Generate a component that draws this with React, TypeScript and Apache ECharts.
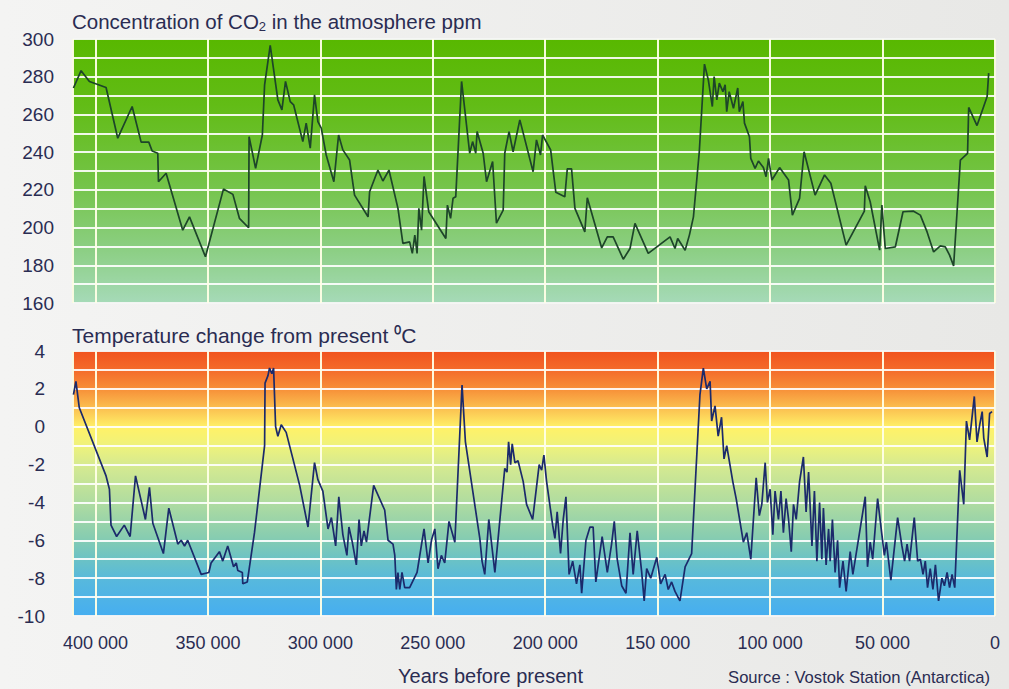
import React, { useEffect, useRef } from "react";
import * as echarts from "echarts";

// ---------- DATA ----------
const co2Years = [
  409800, 406400, 402700, 395300, 390100, 383700, 379700, 376300, 374800, 372300, 372000, 368600,
  361200, 358200, 351100, 343100, 338900, 336000, 331900, 331700, 328800, 325800, 324800, 322300,
  318900, 317100, 315500, 313400, 311900, 307800, 306300, 304500, 302600, 301100, 299600, 297400,
  294000, 291900, 290000, 287000, 284800, 278800, 278100, 274400, 272200, 269500, 265500, 263300,
  260300, 259100, 258000, 257000, 256200, 255000, 253900, 251800, 244200, 243500, 242100, 241000,
  239800, 237200, 233600, 232300, 230900, 230300, 227600, 226100, 223400, 221700, 218700, 218000,
  216100, 214300, 211300, 205400, 203900, 202100, 201200, 197600, 195300, 191300, 190200, 188300,
  186800, 182400, 181300, 174900, 172400, 169800, 165300, 162300, 160100, 154200, 144500, 142300,
  141100, 137800, 135900, 134100, 131500, 129200, 127500, 125700, 124900, 123700, 122600, 121000,
  120000, 119300, 118200, 116300, 114400, 113700, 112100, 111400, 109200, 108600, 106700, 105200,
  103000, 101800, 100700, 99200, 95800, 91800, 90100, 86900, 84900, 80000, 75800, 73000,
  66200, 58100, 57700, 55500, 51300, 50300, 48800, 44300, 40900, 36200, 33200, 30200,
  27300, 24300, 22100, 20200, 18400, 15400, 12200, 11700, 8000, 5300, 3500, 2800,
];
const co2Values = [
  274, 283.2, 277.5, 274.3, 247.4, 264.2, 245.3, 245.3, 240.6, 239.4, 224.3, 228.8,
  198.6, 205.7, 184.5, 220.4, 217.6, 204.9, 199.9, 248.2, 231.4, 249.1, 275.7, 296.6,
  267.7, 262.4, 277.5, 266.8, 265.1, 245.6, 255.4, 242.1, 270.4, 256.2, 252.7, 238.5,
  224.3, 249.1, 241.2, 235.8, 217.2, 205.7, 219, 230.5, 224.7, 230.5, 210.2, 191.6,
  192.4, 186.3, 196, 186.3, 210.2, 198.6, 227.1, 208.4, 194.2, 211.9, 204.9, 215.5,
  216.3, 277.5, 239.4, 245.6, 239.4, 250.9, 239.4, 224.3, 235, 202.3, 209.3, 239.4,
  250.9, 240.2, 257.1, 229.6, 246.5, 238.5, 249.1, 241.2, 218.7, 216.3, 231.1, 231.1,
  210.2, 197.7, 215.8, 189.2, 195.1, 195.1, 183.2, 188.9, 202.2, 186.3, 195.1, 188.9,
  194.2, 188, 196, 205.7, 240.2, 286.7, 278.4, 264.2, 280.1, 267.7, 276.6, 272.1,
  275.7, 261.5, 272.1, 263.3, 274, 261.5, 266.8, 255.4, 248.2, 236.7, 231.4, 235.3,
  231.8, 227, 236.7, 225.2, 231.8, 225.2, 206.6, 215.5, 240.2, 217.2, 227.9, 223.5,
  190.7, 208.7, 222.2, 213.7, 188, 211.9, 188.9, 189.8, 208.4, 208.7, 206.6, 197.7,
  187.1, 190.3, 189.8, 185.4, 179.7, 235.8, 239.4, 263.7, 254.1, 263.3, 269.5, 281.9,
];

const tempYears = [
  409800, 408700, 407200, 395300, 393800, 393100, 390600, 387200, 384600, 382200, 377800, 376000,
  374500, 369800, 367400, 363400, 361900, 360400, 359000, 353000, 349600, 348600, 344900, 343400,
  341200, 338600, 337400, 336700, 334700, 334500, 332500, 329300, 324800, 324600, 323300, 322600,
  321600, 320800, 319900, 318900, 317400, 315200, 309200, 305500, 302600, 301100, 298900, 296600,
  295100, 293200, 291800, 290000, 288200, 287300, 285800, 284000, 282800, 281800, 280600, 279500,
  276300, 271400, 269900, 267700, 266900, 266200, 265500, 264700, 263700, 262500, 260300, 257000,
  253900, 252100, 250600, 249100, 247700, 246200, 244700, 242800, 240200, 237000, 235500, 229100,
  228100, 226900, 225100, 222400, 218000, 217000, 216300, 215400, 214700, 213500, 212100, 209800,
  208300, 205600, 202700, 201600, 200600, 199400, 196700, 195700, 194700, 193200, 192000, 190800,
  189400, 187800, 186100, 184600, 183800, 181900, 180100, 178700, 177500, 174700, 172400, 170500,
  169300, 168000, 166000, 164100, 162300, 160900, 159100, 157100, 156000, 154900, 153100, 150400,
  148700, 146700, 145300, 143800, 142300, 140100, 137800, 134900, 131200, 129700, 128200, 126700,
  126000, 124500, 123100, 121600, 120500, 119300, 116600, 115100, 111900, 110400, 108600, 106200,
  104800, 103700, 102200, 101200, 100000, 98800, 97800, 96300, 95200, 94100, 92900, 91800,
  90600, 89600, 88400, 86900, 85200, 84000, 82900, 81400, 80300, 79200, 78000, 77000,
  76300, 75100, 74000, 73300, 72300, 71100, 70000, 69100, 67600, 66200, 64400, 63200,
  57700, 56700, 55500, 54400, 52200, 50300, 49200, 48300, 46300, 43300, 41400, 40200,
  39100, 38000, 35900, 34400, 33200, 32000, 31000, 30000, 28800, 27600, 26500, 25100,
  23600, 22500, 21300, 20200, 19100, 17900, 15700, 13900, 12700, 11300, 9200, 8000,
  6800, 5700, 5000, 3500, 2400, 1300,
];
const tempValues = [
  1.7, 2.4, 1.0, -2.6, -3.3, -5.2, -5.8, -5.2, -5.8, -2.6, -4.9, -3.2,
  -5.1, -6.7, -4.3, -6.2, -6.0, -6.3, -6.0, -7.8, -7.7, -7.2, -6.6, -7.1,
  -6.3, -7.4, -7.2, -7.6, -7.7, -8.3, -8.2, -5.6, -1.0, 2.3, 2.7, 3.1,
  2.8, 3.1, 0.0, -0.5, 0.1, -0.3, -3.1, -5.3, -1.9, -2.8, -3.4, -5.4,
  -4.8, -6.3, -3.7, -5.7, -6.8, -5.3, -6.1, -7.3, -4.9, -6.3, -5.5, -6.1,
  -3.1, -4.4, -6.0, -6.2, -6.8, -8.6, -7.7, -8.6, -7.7, -8.5, -8.5, -7.7,
  -5.4, -7.2, -6.0, -5.4, -7.5, -6.8, -7.2, -5.0, -6.1, 2.2, -0.8, -5.9,
  -7.1, -7.8, -4.9, -7.7, -2.2, -2.4, -0.8, -2.0, -0.9, -1.9, -1.8, -2.9,
  -4.1, -4.9, -2.0, -2.3, -1.5, -2.9, -5.2, -5.9, -4.5, -6.7, -4.9, -3.7,
  -7.8, -7.1, -8.3, -7.3, -8.8, -6.0, -5.3, -5.3, -8.2, -5.8, -7.7, -6.2,
  -5.0, -7.0, -8.4, -8.8, -5.6, -7.8, -5.5, -7.7, -9.2, -7.5, -8.0, -6.9,
  -8.3, -7.8, -8.6, -8.2, -8.7, -9.2, -7.4, -6.7, 1.7, 3.1, 2.0, 2.4,
  0.3, 1.1, -0.5, 0.5, -1.7, -1.0, -2.9, -3.8, -6.1, -5.6, -7.0, -2.7,
  -4.7, -4.1, -1.9, -4.0, -3.3, -5.7, -3.4, -4.9, -3.4, -5.6, -3.8, -4.9,
  -6.6, -4.1, -4.9, -2.9, -1.6, -4.5, -2.4, -6.3, -3.4, -7.1, -4.0, -7.0,
  -4.3, -7.3, -5.4, -7.1, -4.9, -7.7, -6.0, -8.5, -7.1, -8.7, -6.6, -7.8,
  -3.7, -7.4, -6.1, -7.0, -3.8, -5.7, -6.8, -6.1, -8.1, -4.8, -6.3, -7.1,
  -6.2, -7.1, -4.8, -7.1, -7.0, -7.8, -7.1, -8.5, -7.5, -8.6, -7.3, -9.2,
  -8.0, -8.4, -7.7, -8.5, -7.8, -8.5, -2.3, -4.1, 0.3, -0.7, 1.6, -0.8,
  0.1, 0.8, -0.6, -1.6, 0.7, 0.8,
];

const co2Title = "Concentration of CO";
const tempTitle = "Temperature change from present ⁰C";
const xAxisTitle = "Years before present";
const sourceText = "Source : Vostok Station (Antarctica)";

const FONT = "'Liberation Sans', Arial, sans-serif";
const TEXT = "#2a2c52";

function fmtYears(v: number): string {
  if (v === 0) return "0";
  const s = String(v);
  return s.slice(0, s.length - 3) + " " + s.slice(s.length - 3);
}

export default function App() {
  const ref = useRef<HTMLDivElement>(null);

  useEffect(() => {
    if (!ref.current) return;
    const chart = echarts.init(ref.current, undefined, { renderer: "svg" });

    const co2Data = co2Years.map((y, i) => [y, co2Values[i]]);
    const tempData = tempYears.map((y, i) => [y, tempValues[i]]);

    const greenBg = new echarts.graphic.LinearGradient(0, 0, 0, 1, [
      { offset: 0, color: "#58b800" },
      { offset: 0.25, color: "#62bc16" },
      { offset: 0.55, color: "#74c448" },
      { offset: 0.8, color: "#8ccf84" },
      { offset: 1, color: "#a6dab8" },
    ]);
    const tempBg = new echarts.graphic.LinearGradient(0, 0, 0, 1, [
      { offset: 0, color: "#f1531f" },
      { offset: 0.07, color: "#f46a2a" },
      { offset: 0.143, color: "#f78f38" },
      { offset: 0.215, color: "#fbbf50" },
      { offset: 0.29, color: "#fff268" },
      { offset: 0.36, color: "#eef27c" },
      { offset: 0.43, color: "#d6ea90" },
      { offset: 0.57, color: "#b0dca0" },
      { offset: 0.7, color: "#88cdb0" },
      { offset: 0.79, color: "#6ac2c6" },
      { offset: 0.87, color: "#56b8de" },
      { offset: 1, color: "#46aef0" },
    ]);

    const gridLine = { show: true, lineStyle: { color: "rgba(255,255,255,0.9)", width: 2 } };

    const xBase = {
      type: "value" as const,
      min: 0,
      max: 410000,
      interval: 50000,
      inverse: true,
      axisLine: { show: false },
      axisTick: { show: false },
      splitLine: { show: true, lineStyle: { color: "rgba(255,255,230,0.95)", width: 2 } },
    };

    chart.setOption({
      animation: false,
      backgroundColor: new echarts.graphic.LinearGradient(0, 0, 1, 0, [
        { offset: 0, color: "#f4f4f3" },
        { offset: 1, color: "#e8e8e6" },
      ]),
      title: [
        {
          text: "{a|" + co2Title + "}{sub|2}{a| in the atmosphere ppm}",
          left: 72,
          top: 9,
          padding: 0,
          textStyle: {
            fontWeight: "normal",
            rich: {
              a: { fontFamily: FONT, fontSize: 20.5, color: TEXT, fontWeight: "normal" },
              sub: {
                fontFamily: FONT,
                fontSize: 13,
                color: TEXT,
                fontWeight: "normal",
                verticalAlign: "bottom",
                padding: [11, 0, 0, 0],
              },
            },
          },
        },
        {
          text: tempTitle,
          left: 72,
          top: 325,
          padding: 0,
          textStyle: { fontFamily: FONT, fontSize: 21, color: TEXT, fontWeight: "normal" },
        },
      ],
      grid: [
        {
          left: 73,
          top: 39,
          width: 922,
          height: 264,
          show: true,
          backgroundColor: greenBg,
          borderColor: "#3d5a3a",
          borderWidth: 1,
        },
        {
          left: 73,
          top: 351,
          width: 922,
          height: 265,
          show: true,
          backgroundColor: tempBg,
          borderColor: "#3a3a46",
          borderWidth: 1,
        },
      ],
      xAxis: [
        { ...xBase, gridIndex: 0, axisLabel: { show: false } },
        {
          ...xBase,
          gridIndex: 1,
          axisLabel: {
            show: true,
            margin: 18,
            fontFamily: FONT,
            fontSize: 18,
            color: TEXT,
            formatter: (v: number) => fmtYears(v),
          },
        },
      ],
      yAxis: [
        {
          type: "value",
          gridIndex: 0,
          min: 160,
          max: 300,
          interval: 20,
          axisLine: { show: false },
          axisTick: { show: false },
          minorTick: { show: false, splitNumber: 2 },
          splitLine: gridLine,
          minorSplitLine: gridLine,
          axisLabel: { margin: 19, fontFamily: FONT, fontSize: 19, color: TEXT },
        },
        {
          type: "value",
          gridIndex: 1,
          min: -10,
          max: 4,
          interval: 2,
          axisLine: { show: false },
          axisTick: { show: false },
          minorTick: { show: false, splitNumber: 2 },
          splitLine: gridLine,
          minorSplitLine: gridLine,
          axisLabel: { margin: 28, fontFamily: FONT, fontSize: 19, color: TEXT },
        },
      ],
      series: [
        {
          type: "line",
          xAxisIndex: 0,
          yAxisIndex: 0,
          data: co2Data,
          showSymbol: false,
          lineStyle: { color: "#1d4529", width: 1.7 },
          silent: true,
        },
        {
          type: "line",
          xAxisIndex: 1,
          yAxisIndex: 1,
          data: tempData,
          showSymbol: false,
          lineStyle: { color: "#1b2a6b", width: 1.7 },
          silent: true,
        },
      ],
      graphic: [
        {
          type: "text",
          left: 398,
          top: 666,
          style: { text: xAxisTitle, font: "20px " + FONT, fill: TEXT },
        },
        {
          type: "text",
          right: 19,
          top: 669,
          style: { text: sourceText, font: "16.6px " + FONT, fill: TEXT },
        },
      ],
    });

    return () => chart.dispose();
  }, []);

  return (
    <div
      ref={ref}
      style={{ position: "fixed", left: 0, top: 0, width: 1009, height: 689 }}
    />
  );
}
